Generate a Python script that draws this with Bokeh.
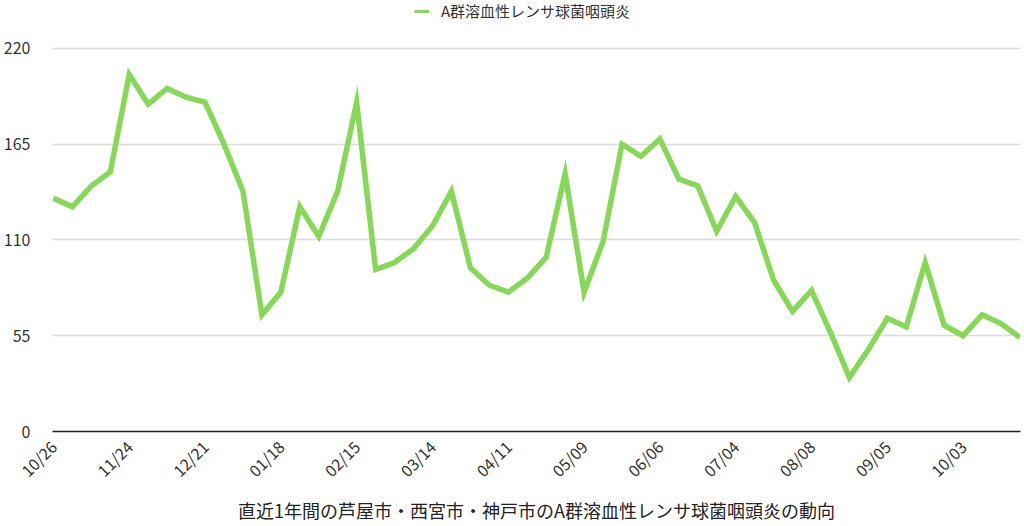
from bokeh.plotting import figure
from bokeh.models import Range1d, FixedTicker, Legend, LegendItem, ColumnDataSource
from bokeh.embed import file_html
from bokeh.resources import INLINE

# ---- data ----
series_name = "A群溶血性レンサ球菌咽頭炎"
axis_title = "直近1年間の芦屋市・西宮市・神戸市のA群溶血性レンサ球菌咽頭炎の動向"

week_index = list(range(52))
cases = [134, 129, 141, 149, 205, 188, 197, 192, 189, 165,
         138, 67, 80, 129, 112, 138, 189, 93, 97, 105,
         118, 138, 94, 84, 80, 88, 100, 148, 80, 109,
         165, 158, 168, 145, 141, 115, 135, 120, 87, 69,
         81, 57, 31, 47, 65, 60, 97, 61, 55, 67,
         62, 54]

tick_positions = [0, 4, 8, 12, 16, 20, 24, 28, 32, 36, 40, 44, 48]
tick_labels = ["10/26", "11/24", "12/21", "01/18", "02/15", "03/14", "04/11",
               "05/09", "06/06", "07/04", "08/08", "09/05", "10/03"]
y_ticks = [0, 55, 110, 165, 220]

FONT = "Noto Sans CJK JP"
GREEN = "#86d956"

src = ColumnDataSource(dict(x=week_index, y=cases))

# frame spans the full top area so the legend can sit inside it above the 220 line
p = figure(width=1024, height=526, output_backend="svg", toolbar_location=None,
           x_range=Range1d(-0.05, 51.03), y_range=Range1d(0, 247.5),
           min_border_left=46, min_border_right=4, min_border_top=0,
           min_border_bottom=94)
p.outline_line_color = None
p.background_fill_color = "white"

r = p.line("x", "y", source=src, line_color=GREEN, line_width=5.5,
           line_join="miter")
# thinner stand-in glyph used only for the legend swatch (draws nothing in the plot)
legend_swatch = p.line(x=[0, 1], y=[float("nan"), float("nan")],
                       line_color=GREEN, line_width=3)

# grid
p.xgrid.grid_line_color = None
p.ygrid.grid_line_color = "#dcdcdc"
p.ygrid.grid_line_width = 1.5
p.ygrid.ticker = FixedTicker(ticks=y_ticks)

# y axis
p.yaxis.ticker = FixedTicker(ticks=y_ticks)
p.yaxis.axis_line_color = None
p.yaxis.major_tick_line_color = None
p.yaxis.minor_tick_line_color = None
p.yaxis.major_label_text_font = FONT
p.yaxis.major_label_text_font_size = "16px"
p.yaxis.major_label_text_color = "#333333"
p.yaxis.major_label_standoff = 16

# x axis
p.xaxis.ticker = FixedTicker(ticks=tick_positions)
p.xaxis.major_label_overrides = {pos: lab for pos, lab in zip(tick_positions, tick_labels)}
p.xaxis.major_label_orientation = 0.785398
p.xaxis.axis_line_color = "#222222"
p.xaxis.axis_line_width = 1.5
p.xaxis.major_tick_line_color = None
p.xaxis.minor_tick_line_color = None
p.xaxis.major_label_text_font = FONT
p.xaxis.major_label_text_font_size = "16px"
p.xaxis.major_label_text_color = "#333333"
p.xaxis.major_label_standoff = 6
p.xaxis.axis_label = axis_title
p.xaxis.axis_label_text_font = FONT
p.xaxis.axis_label_text_font_size = "18px"
p.xaxis.axis_label_text_font_style = "normal"
p.xaxis.axis_label_text_color = "#222222"
p.xaxis.axis_label_standoff = 4

legend = Legend(items=[LegendItem(label=series_name, renderers=[legend_swatch])],
                location=(362, 410), orientation="horizontal",
                border_line_color=None, background_fill_alpha=0,
                padding=0, margin=0, glyph_width=15, glyph_height=16,
                label_standoff=12, label_text_font=FONT,
                label_text_font_size="15px", label_text_color="#333333")
p.add_layout(legend)

open("out.html", "w").write(file_html(p, INLINE))
